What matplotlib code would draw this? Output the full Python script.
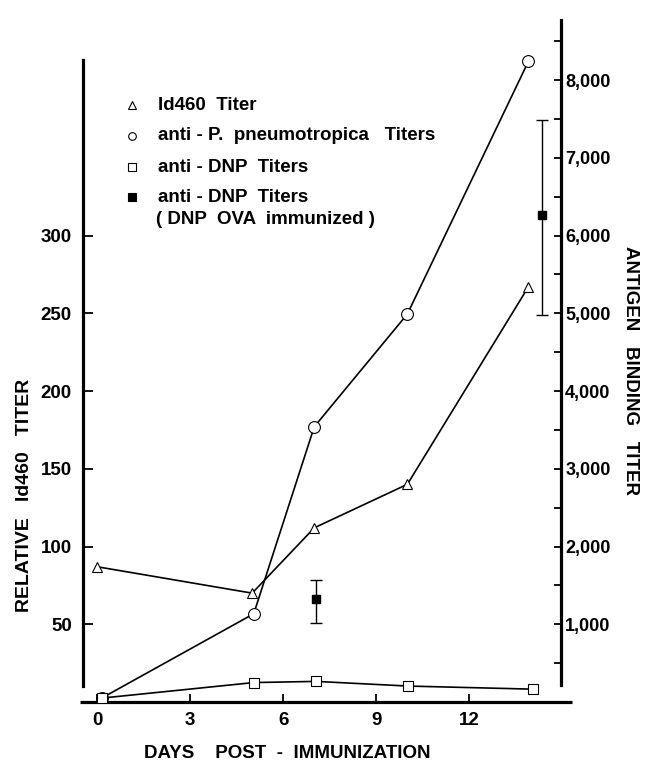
import matplotlib
matplotlib.use('Agg')
import matplotlib.pyplot as plt
from matplotlib.ticker import FixedLocator, FuncFormatter, NullFormatter

plt.rcParams['font.family'] = ['Liberation Sans', 'DejaVu Sans']
plt.rcParams['font.weight'] = 'bold'

# ---- data ----
days_id460 = [0, 5, 7, 10, 13.9]
id460_titer = [87, 70, 112, 140, 267]

days_pneumo = [0.15, 5.05, 7, 10, 13.9]
pneumo_titer = [50, 1135, 3540, 4990, 8240]

days_dnp = [0.15, 5.05, 7.05, 10.03, 14.05]
dnp_titer = [50, 250, 265, 205, 165]

days_ova = [7.05, 14.35]
ova_titer = [1325, 6260]
ova_low = [1020, 4980]
ova_high = [1570, 7480]

x_ticks = [0, 3, 6, 9, 12]
left_ticks = [50, 100, 150, 200, 250, 300]
right_major = [1000, 2000, 3000, 4000, 5000, 6000, 7000, 8000]
right_minor = [500, 1500, 2500, 3500, 4500, 5500, 6500, 7500, 8500]

legend_labels = ["Id460  Titer", "anti - P.  pneumotropica   Titers",
                 "anti - DNP  Titers", "anti - DNP  Titers"]
legend_extra = "( DNP  OVA  immunized )"

# ---- layout ----
W, H = 649, 764
fig = plt.figure(figsize=(W / 100, H / 100), dpi=100)
ax = fig.add_axes([83 / W, (H - 702) / H, (561 - 83) / W, (702 - 20) / H])
ax.patch.set_alpha(0)
xmin, xmax = -0.451, 14.95
ytop = 438.6
ax.set_xlim(xmin, xmax)
ax.set_ylim(0, ytop)
ax2 = ax.twinx()
ax2.set_ylim(0, ytop * 20)

for s in ['top', 'right']:
    ax.spines[s].set_visible(False)
for s in ['top', 'left', 'bottom']:
    ax2.spines[s].set_visible(False)
ax.spines['left'].set_linewidth(2.3)
ax.spines['left'].set_bounds(10.3, 412.9)
ax.spines['bottom'].set_visible(False)
ax.plot([-0.548, 15.30], [0, 0], color='black', lw=2.3, clip_on=False,
        solid_capstyle='butt', zorder=5)
ax2.spines['right'].set_linewidth(2.3)
ax2.spines['right'].set_bounds(219, ytop * 20)

ax.set_xticks(x_ticks)
ax.set_xticklabels([str(t) for t in x_ticks])
ax.set_yticks(left_ticks)
ax.set_yticklabels([str(t) for t in left_ticks])
ax.tick_params(axis='x', direction='in', length=6, width=1.3, pad=7, labelsize=13.5)
ax.tick_params(axis='y', direction='in', length=7, width=1.3, pad=8, labelsize=13.5)

ax2.yaxis.set_major_locator(FixedLocator(right_major))
ax2.yaxis.set_minor_locator(FixedLocator(right_minor))
ax2.yaxis.set_major_formatter(FuncFormatter(lambda v, p: f"{int(v):,}"))
ax2.yaxis.set_minor_formatter(NullFormatter())
ax2.tick_params(axis='y', which='both', direction='in', length=5, width=1.3, pad=3,
                labelsize=13)

lw = 1.2
ax.plot(days_id460, id460_titer, color='black', lw=lw, marker='^', ms=7,
        mfc='white', mec='black', mew=0.8, zorder=4)
ax2.plot(days_pneumo, pneumo_titer, color='black', lw=lw, marker='o', ms=8.5,
         mfc='white', mec='black', mew=0.8, zorder=4)
ax2.plot(days_dnp, dnp_titer, color='black', lw=lw, marker='s', ms=7,
         mfc='white', mec='black', mew=0.8, zorder=4)
yerr = [[t - lo for t, lo in zip(ova_titer, ova_low)],
        [hi - t for t, hi in zip(ova_titer, ova_high)]]
ax2.errorbar(days_ova, ova_titer, yerr=yerr, fmt='s', color='black', ms=6,
             ecolor='black', elinewidth=1.0, capsize=4.5, capthick=1.0, zorder=4)

# ---- legend (manual) ----
def fx(px):
    return px / W

def fy(py):
    return 1 - py / H

leg_markers = [('^', 'white', 5.5), ('o', 'white', 5.5), ('s', 'white', 5.5), ('s', 'black', 6)]
leg_rows = [105, 136, 167, 197]
for (m, fc, ms), yy, lab in zip(leg_markers, leg_rows, legend_labels):
    fig.lines.append(plt.Line2D([fx(132)], [fy(yy)], transform=fig.transFigure,
                                marker=m, ms=ms, mfc=fc, mec='black', mew=0.8,
                                linestyle='none'))
    fig.text(fx(158), fy(yy), lab, ha='left', va='center', fontsize=13.5,
             fontweight='bold')
fig.text(fx(156), fy(219), legend_extra, ha='left', va='center', fontsize=13.5,
         fontweight='bold')

# ---- axis titles ----
fig.text(fx(25), fy(495), "RELATIVE   Id460   TITER", rotation=90, ha='center',
         va='center', fontsize=14, fontweight='bold')
fig.text(fx(630), fy(370), "ANTIGEN   BINDING   TITER", rotation=270, ha='center',
         va='center', fontsize=13.5, fontweight='bold')
fig.text(fx(287), fy(753), "DAYS    POST  -  IMMUNIZATION", ha='center',
         va='center', fontsize=13.5, fontweight='bold')

fig.savefig('out.png', dpi=100)
